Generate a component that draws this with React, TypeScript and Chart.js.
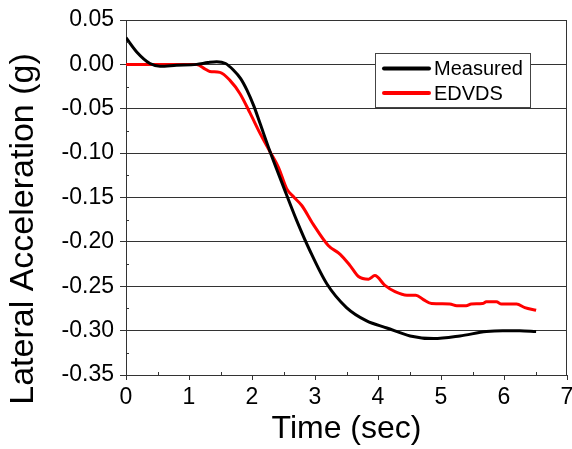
import React, { useEffect, useRef } from "react";
import { Chart, registerables } from "chart.js";

Chart.register(...registerables);

const measuredTime = [0, 0.17, 0.38, 0.54, 0.8, 1.12, 1.3, 1.44, 1.58, 1.7, 1.82, 1.92, 2.03, 2.13, 2.29, 2.5, 2.71, 2.92, 3.19, 3.5, 3.82, 4.14, 4.51, 4.88, 5.3, 5.72, 5.98, 6.25, 6.51];
const measuredValues = [0.03, 0.014, 0.001, -0.002, -0.001, 0.0, 0.002, 0.003, 0.001, -0.006, -0.016, -0.029, -0.047, -0.067, -0.099, -0.138, -0.176, -0.21, -0.2475, -0.274, -0.289, -0.297, -0.306, -0.309, -0.306, -0.301, -0.3, -0.3, -0.301];

const edvdsTime = [0, 0.5, 1.12, 1.25, 1.33, 1.49, 1.65, 1.81, 1.97, 2.13, 2.29, 2.42, 2.55, 2.67, 2.79, 2.97, 3.21, 3.4, 3.56, 3.69, 3.85, 3.95, 4.11, 4.27, 4.46, 4.6, 4.72, 4.85, 5.14, 5.25, 5.4, 5.48, 5.66, 5.72, 5.88, 5.96, 6.2, 6.33, 6.51];
const edvdsValues = [0, 0, 0, -0.005, -0.008, -0.009, -0.018, -0.033, -0.055, -0.078, -0.099, -0.116, -0.14, -0.15, -0.159, -0.18, -0.204, -0.214, -0.227, -0.239, -0.242, -0.238, -0.249, -0.256, -0.26, -0.26, -0.265, -0.2695, -0.27, -0.272, -0.272, -0.27, -0.2695, -0.2675, -0.2675, -0.27, -0.27, -0.274, -0.277];

const seriesLabels = ["Measured", "EDVDS"];
const seriesColors = ["#000000", "#ff0000"];
const xTitle = "Time (sec)";
const yTitle = "Lateral Acceleration (g)";

const FONT = "Arial, 'Liberation Sans', sans-serif";

const decorPlugin = {
  id: "decor",
  afterDraw(chart: any) {
    const ctx = chart.ctx;
    const { left, right, top, bottom } = chart.chartArea;
    const xs = chart.scales.x;
    const ys = chart.scales.y;
    ctx.save();
    // frame
    ctx.strokeStyle = "#333";
    ctx.lineWidth = 1;
    ctx.beginPath();
    ctx.moveTo(left, top + 0.5);
    ctx.lineTo(right - 0.5, top + 0.5);
    ctx.lineTo(right - 0.5, bottom);
    ctx.stroke();
    // minor ticks
    ctx.beginPath();
    for (let v = 0.5; v < 7; v += 1) {
      const px = Math.round(xs.getPixelForValue(v)) + 0.5;
      ctx.moveTo(px, bottom);
      ctx.lineTo(px, bottom - 3);
    }
    for (let v = -0.325; v < 0.05; v += 0.05) {
      const py = Math.round(ys.getPixelForValue(v)) + 0.5;
      ctx.moveTo(left, py);
      ctx.lineTo(left + 3, py);
    }
    ctx.stroke();
    // y title
    ctx.fillStyle = "#000";
    ctx.font = `34px ${FONT}`;
    ctx.textAlign = "center";
    ctx.textBaseline = "middle";
    ctx.translate(24, 229);
    ctx.rotate(-Math.PI / 2);
    ctx.fillText(yTitle, 0, 0);
    ctx.restore();

    // legend
    ctx.save();
    const lx = 375.5, ly = 53.5, lw = 155, lh = 54;
    ctx.fillStyle = "#fff";
    ctx.fillRect(lx, ly, lw, lh);
    ctx.strokeStyle = "#444";
    ctx.lineWidth = 1;
    ctx.strokeRect(lx, ly, lw, lh);
    ctx.font = `20px ${FONT}`;
    ctx.textAlign = "left";
    ctx.textBaseline = "middle";
    chart.data.datasets.forEach((ds: any, i: number) => {
      const yy = 68.5 + i * 24.5;
      ctx.strokeStyle = ds.borderColor;
      ctx.lineWidth = 4;
      ctx.lineCap = "round";
      ctx.beginPath();
      ctx.moveTo(384, yy);
      ctx.lineTo(429, yy);
      ctx.stroke();
      ctx.fillStyle = "#000";
      ctx.fillText(ds.label, 434, yy + 1);
    });
    ctx.restore();
  },
};

export default function App() {
  const ref = useRef<HTMLCanvasElement>(null);
  useEffect(() => {
    if (!ref.current) return;
    const chart = new Chart(ref.current, {
      type: "line",
      data: {
        datasets: [
          {
            label: seriesLabels[0],
            data: measuredTime.map((t, i) => ({ x: t, y: measuredValues[i] })),
            borderColor: seriesColors[0],
            backgroundColor: seriesColors[0],
            borderWidth: 3,
            pointRadius: 0,
            cubicInterpolationMode: "monotone",
          },
          {
            label: seriesLabels[1],
            data: edvdsTime.map((t, i) => ({ x: t, y: edvdsValues[i] })),
            borderColor: seriesColors[1],
            backgroundColor: seriesColors[1],
            borderWidth: 3,
            pointRadius: 0,
            cubicInterpolationMode: "monotone",
          },
        ],
      },
      options: {
        animation: false,
        responsive: false,
        layout: { padding: { top: 20, right: 5, left: 0, bottom: 0 } },
        plugins: { legend: { display: false }, tooltip: { enabled: false } },
        scales: {
          x: {
            type: "linear",
            min: 0,
            max: 7,
            afterFit: (s: any) => { s.height = 74; s.paddingLeft = 0; s.paddingRight = 0; },
            ticks: { stepSize: 1, color: "#000", font: { family: FONT, size: 23 }, padding: 4 },
            grid: { drawOnChartArea: false, drawTicks: true, tickLength: 5, color: "#333" },
            border: { color: "#333", width: 1 },
            title: { display: true, text: xTitle, color: "#000", font: { family: FONT, size: 32 }, padding: { top: 0, bottom: 1 } },
          },
          y: {
            type: "linear",
            min: -0.35,
            max: 0.05,
            afterFit: (s: any) => { s.width = 126; s.paddingTop = 0; s.paddingBottom = 0; },
            ticks: {
              stepSize: 0.05,
              color: "#000",
              font: { family: FONT, size: 23 },
              padding: 6,
              callback: (v: any) => Number(v).toFixed(2),
            },
            grid: { color: "#333", tickLength: 6, lineWidth: 1 },
            border: { color: "#333", width: 1 },
          },
        },
      },
      plugins: [decorPlugin],
    });
    return () => chart.destroy();
  }, []);
  return (
    <div style={{ position: "absolute", left: 0, top: 0, width: 572, height: 449, background: "#fff" }}>
      <canvas ref={ref} width={572} height={449} style={{ display: "block" }} />
    </div>
  );
}
